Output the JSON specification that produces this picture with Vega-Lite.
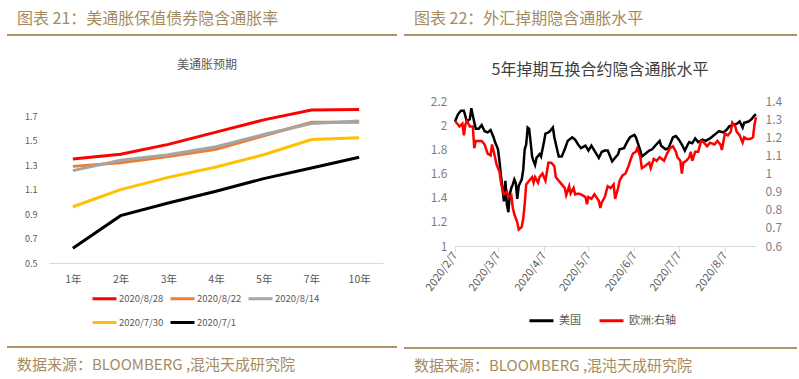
{
  "$schema": "https://vega.github.io/schema/vega-lite/v6.json",
  "background": "white",
  "padding": {"left": 6, "top": 11, "right": 0, "bottom": 0},
  "config": {
    "view": {"stroke": null},
    "font": "Noto Sans CJK SC",
    "legend": {"layout": {"bottom": {"anchor": "middle"}}}
  },
  "resolve": {"scale": {"color": "independent", "x": "independent", "y": "independent"}, "legend": {"color": "independent"}, "axis": {"x": "independent", "y": "independent"}},
  "datasets": {
    "us": [
      {"d": "2020-02-07", "v": 2.03, "s": "美国"}, {"d": "2020-02-09", "v": 2.09, "s": "美国"}, {"d": "2020-02-11", "v": 2.12, "s": "美国"}, {"d": "2020-02-13", "v": 2.12, "s": "美国"}, {"d": "2020-02-15", "v": 2.03, "s": "美国"}, {"d": "2020-02-17", "v": 2.05, "s": "美国"}, {"d": "2020-02-18", "v": 2.14, "s": "美国"}, {"d": "2020-02-19", "v": 2.08, "s": "美国"}, {"d": "2020-02-21", "v": 1.97, "s": "美国"}, {"d": "2020-02-23", "v": 1.97, "s": "美国"}, {"d": "2020-02-25", "v": 2.0, "s": "美国"}, {"d": "2020-02-27", "v": 1.95, "s": "美国"}, {"d": "2020-02-29", "v": 1.94, "s": "美国"}, {"d": "2020-03-02", "v": 1.96, "s": "美国"}, {"d": "2020-03-04", "v": 1.9, "s": "美国"}, {"d": "2020-03-05", "v": 1.86, "s": "美国"}, {"d": "2020-03-07", "v": 1.8, "s": "美国"}, {"d": "2020-03-08", "v": 1.7, "s": "美国"}, {"d": "2020-03-09", "v": 1.58, "s": "美国"}, {"d": "2020-03-10", "v": 1.48, "s": "美国"}, {"d": "2020-03-11", "v": 1.37, "s": "美国"}, {"d": "2020-03-12", "v": 1.54, "s": "美国"}, {"d": "2020-03-13", "v": 1.34, "s": "美国"}, {"d": "2020-03-14", "v": 1.28, "s": "美国"}, {"d": "2020-03-15", "v": 1.43, "s": "美国"}, {"d": "2020-03-16", "v": 1.48, "s": "美国"}, {"d": "2020-03-17", "v": 1.51, "s": "美国"}, {"d": "2020-03-18", "v": 1.55, "s": "美国"}, {"d": "2020-03-19", "v": 1.52, "s": "美国"}, {"d": "2020-03-20", "v": 1.39, "s": "美国"}, {"d": "2020-03-21", "v": 1.5, "s": "美国"}, {"d": "2020-03-23", "v": 1.55, "s": "美国"}, {"d": "2020-03-24", "v": 1.63, "s": "美国"}, {"d": "2020-03-25", "v": 1.8, "s": "美国"}, {"d": "2020-03-26", "v": 1.84, "s": "美国"}, {"d": "2020-03-27", "v": 1.98, "s": "美国"}, {"d": "2020-03-28", "v": 1.97, "s": "美国"}, {"d": "2020-03-29", "v": 1.86, "s": "美国"}, {"d": "2020-03-30", "v": 1.74, "s": "美国"}, {"d": "2020-03-31", "v": 1.7, "s": "美国"}, {"d": "2020-04-01", "v": 1.67, "s": "美国"}, {"d": "2020-04-02", "v": 1.73, "s": "美国"}, {"d": "2020-04-04", "v": 1.76, "s": "美国"}, {"d": "2020-04-05", "v": 1.74, "s": "美国"}, {"d": "2020-04-07", "v": 1.86, "s": "美国"}, {"d": "2020-04-08", "v": 1.93, "s": "美国"}, {"d": "2020-04-10", "v": 1.94, "s": "美国"}, {"d": "2020-04-11", "v": 1.95, "s": "美国"}, {"d": "2020-04-13", "v": 1.98, "s": "美国"}, {"d": "2020-04-14", "v": 1.9, "s": "美国"}, {"d": "2020-04-16", "v": 1.79, "s": "美国"}, {"d": "2020-04-17", "v": 1.74, "s": "美国"}, {"d": "2020-04-19", "v": 1.74, "s": "美国"}, {"d": "2020-04-21", "v": 1.8, "s": "美国"}, {"d": "2020-04-23", "v": 1.87, "s": "美国"}, {"d": "2020-04-26", "v": 1.9, "s": "美国"}, {"d": "2020-04-28", "v": 1.88, "s": "美国"}, {"d": "2020-04-30", "v": 1.84, "s": "美国"}, {"d": "2020-05-02", "v": 1.81, "s": "美国"}, {"d": "2020-05-05", "v": 1.83, "s": "美国"}, {"d": "2020-05-07", "v": 1.79, "s": "美国"}, {"d": "2020-05-09", "v": 1.83, "s": "美国"}, {"d": "2020-05-11", "v": 1.79, "s": "美国"}, {"d": "2020-05-14", "v": 1.73, "s": "美国"}, {"d": "2020-05-16", "v": 1.78, "s": "美国"}, {"d": "2020-05-18", "v": 1.79, "s": "美国"}, {"d": "2020-05-20", "v": 1.79, "s": "美国"}, {"d": "2020-05-23", "v": 1.7, "s": "美国"}, {"d": "2020-05-25", "v": 1.73, "s": "美国"}, {"d": "2020-05-27", "v": 1.76, "s": "美国"}, {"d": "2020-05-28", "v": 1.8, "s": "美国"}, {"d": "2020-05-31", "v": 1.81, "s": "美国"}, {"d": "2020-06-02", "v": 1.86, "s": "美国"}, {"d": "2020-06-04", "v": 1.9, "s": "美国"}, {"d": "2020-06-07", "v": 1.92, "s": "美国"}, {"d": "2020-06-08", "v": 1.9, "s": "美国"}, {"d": "2020-06-11", "v": 1.79, "s": "美国"}, {"d": "2020-06-12", "v": 1.74, "s": "美国"}, {"d": "2020-06-15", "v": 1.77, "s": "美国"}, {"d": "2020-06-17", "v": 1.79, "s": "美国"}, {"d": "2020-06-19", "v": 1.8, "s": "美国"}, {"d": "2020-06-21", "v": 1.83, "s": "美国"}, {"d": "2020-06-24", "v": 1.87, "s": "美国"}, {"d": "2020-06-25", "v": 1.83, "s": "美国"}, {"d": "2020-06-28", "v": 1.8, "s": "美国"}, {"d": "2020-06-30", "v": 1.81, "s": "美国"}, {"d": "2020-07-03", "v": 1.9, "s": "美国"}, {"d": "2020-07-05", "v": 1.91, "s": "美国"}, {"d": "2020-07-07", "v": 1.88, "s": "美国"}, {"d": "2020-07-09", "v": 1.84, "s": "美国"}, {"d": "2020-07-11", "v": 1.79, "s": "美国"}, {"d": "2020-07-13", "v": 1.84, "s": "美国"}, {"d": "2020-07-14", "v": 1.86, "s": "美国"}, {"d": "2020-07-16", "v": 1.85, "s": "美国"}, {"d": "2020-07-18", "v": 1.89, "s": "美国"}, {"d": "2020-07-20", "v": 1.86, "s": "美国"}, {"d": "2020-07-23", "v": 1.88, "s": "美国"}, {"d": "2020-07-25", "v": 1.87, "s": "美国"}, {"d": "2020-07-28", "v": 1.89, "s": "美国"}, {"d": "2020-07-30", "v": 1.91, "s": "美国"}, {"d": "2020-08-01", "v": 1.93, "s": "美国"}, {"d": "2020-08-03", "v": 1.95, "s": "美国"}, {"d": "2020-08-06", "v": 1.94, "s": "美国"}, {"d": "2020-08-08", "v": 1.96, "s": "美国"}, {"d": "2020-08-10", "v": 1.99, "s": "美国"}, {"d": "2020-08-12", "v": 2.0, "s": "美国"}, {"d": "2020-08-15", "v": 2.01, "s": "美国"}, {"d": "2020-08-17", "v": 2.03, "s": "美国"}, {"d": "2020-08-19", "v": 1.98, "s": "美国"}, {"d": "2020-08-20", "v": 2.02, "s": "美国"}, {"d": "2020-08-23", "v": 2.03, "s": "美国"}, {"d": "2020-08-25", "v": 2.05, "s": "美国"}, {"d": "2020-08-27", "v": 2.08, "s": "美国"}, {"d": "2020-08-28", "v": 2.09, "s": "美国"}
    ],
    "eu": [
      {"d": "2020-02-07", "v": 1.29, "s": "欧洲:右轴"}, {"d": "2020-02-09", "v": 1.27, "s": "欧洲:右轴"}, {"d": "2020-02-10", "v": 1.26, "s": "欧洲:右轴"}, {"d": "2020-02-12", "v": 1.275, "s": "欧洲:右轴"}, {"d": "2020-02-13", "v": 1.21, "s": "欧洲:右轴"}, {"d": "2020-02-14", "v": 1.27, "s": "欧洲:右轴"}, {"d": "2020-02-15", "v": 1.29, "s": "欧洲:右轴"}, {"d": "2020-02-17", "v": 1.26, "s": "欧洲:右轴"}, {"d": "2020-02-19", "v": 1.26, "s": "欧洲:右轴"}, {"d": "2020-02-20", "v": 1.14, "s": "欧洲:右轴"}, {"d": "2020-02-21", "v": 1.18, "s": "欧洲:右轴"}, {"d": "2020-02-23", "v": 1.18, "s": "欧洲:右轴"}, {"d": "2020-02-25", "v": 1.18, "s": "欧洲:右轴"}, {"d": "2020-02-27", "v": 1.16, "s": "欧洲:右轴"}, {"d": "2020-02-29", "v": 1.11, "s": "欧洲:右轴"}, {"d": "2020-03-02", "v": 1.1, "s": "欧洲:右轴"}, {"d": "2020-03-03", "v": 1.16, "s": "欧洲:右轴"}, {"d": "2020-03-05", "v": 1.09, "s": "欧洲:右轴"}, {"d": "2020-03-06", "v": 1.05, "s": "欧洲:右轴"}, {"d": "2020-03-08", "v": 1.01, "s": "欧洲:右轴"}, {"d": "2020-03-09", "v": 0.95, "s": "欧洲:右轴"}, {"d": "2020-03-10", "v": 0.91, "s": "欧洲:右轴"}, {"d": "2020-03-11", "v": 0.885, "s": "欧洲:右轴"}, {"d": "2020-03-13", "v": 0.9, "s": "欧洲:右轴"}, {"d": "2020-03-14", "v": 0.87, "s": "欧洲:右轴"}, {"d": "2020-03-16", "v": 0.88, "s": "欧洲:右轴"}, {"d": "2020-03-17", "v": 0.81, "s": "欧洲:右轴"}, {"d": "2020-03-18", "v": 0.775, "s": "欧洲:右轴"}, {"d": "2020-03-20", "v": 0.73, "s": "欧洲:右轴"}, {"d": "2020-03-21", "v": 0.69, "s": "欧洲:右轴"}, {"d": "2020-03-23", "v": 0.705, "s": "欧洲:右轴"}, {"d": "2020-03-24", "v": 0.75, "s": "欧洲:右轴"}, {"d": "2020-03-25", "v": 0.83, "s": "欧洲:右轴"}, {"d": "2020-03-26", "v": 0.94, "s": "欧洲:右轴"}, {"d": "2020-03-28", "v": 0.96, "s": "欧洲:右轴"}, {"d": "2020-03-30", "v": 0.98, "s": "欧洲:右轴"}, {"d": "2020-03-31", "v": 0.95, "s": "欧洲:右轴"}, {"d": "2020-04-01", "v": 0.98, "s": "欧洲:右轴"}, {"d": "2020-04-03", "v": 0.95, "s": "欧洲:右轴"}, {"d": "2020-04-04", "v": 0.98, "s": "欧洲:右轴"}, {"d": "2020-04-06", "v": 1.0, "s": "欧洲:右轴"}, {"d": "2020-04-08", "v": 0.96, "s": "欧洲:右轴"}, {"d": "2020-04-09", "v": 1.01, "s": "欧洲:右轴"}, {"d": "2020-04-10", "v": 1.06, "s": "欧洲:右轴"}, {"d": "2020-04-12", "v": 1.06, "s": "欧洲:右轴"}, {"d": "2020-04-14", "v": 1.04, "s": "欧洲:右轴"}, {"d": "2020-04-15", "v": 0.98, "s": "欧洲:右轴"}, {"d": "2020-04-17", "v": 0.96, "s": "欧洲:右轴"}, {"d": "2020-04-19", "v": 0.94, "s": "欧洲:右轴"}, {"d": "2020-04-21", "v": 0.92, "s": "欧洲:右轴"}, {"d": "2020-04-22", "v": 0.88, "s": "欧洲:右轴"}, {"d": "2020-04-24", "v": 0.93, "s": "欧洲:右轴"}, {"d": "2020-04-25", "v": 0.89, "s": "欧洲:右轴"}, {"d": "2020-04-27", "v": 0.92, "s": "欧洲:右轴"}, {"d": "2020-04-28", "v": 0.885, "s": "欧洲:右轴"}, {"d": "2020-04-30", "v": 0.89, "s": "欧洲:右轴"}, {"d": "2020-05-02", "v": 0.885, "s": "欧洲:右轴"}, {"d": "2020-05-05", "v": 0.87, "s": "欧洲:右轴"}, {"d": "2020-05-06", "v": 0.83, "s": "欧洲:右轴"}, {"d": "2020-05-07", "v": 0.87, "s": "欧洲:右轴"}, {"d": "2020-05-09", "v": 0.86, "s": "欧洲:右轴"}, {"d": "2020-05-11", "v": 0.885, "s": "欧洲:右轴"}, {"d": "2020-05-14", "v": 0.85, "s": "欧洲:右轴"}, {"d": "2020-05-15", "v": 0.81, "s": "欧洲:右轴"}, {"d": "2020-05-16", "v": 0.84, "s": "欧洲:右轴"}, {"d": "2020-05-18", "v": 0.87, "s": "欧洲:右轴"}, {"d": "2020-05-20", "v": 0.93, "s": "欧洲:右轴"}, {"d": "2020-05-22", "v": 0.92, "s": "欧洲:右轴"}, {"d": "2020-05-24", "v": 0.94, "s": "欧洲:右轴"}, {"d": "2020-05-25", "v": 0.86, "s": "欧洲:右轴"}, {"d": "2020-05-27", "v": 0.92, "s": "欧洲:右轴"}, {"d": "2020-05-28", "v": 0.96, "s": "欧洲:右轴"}, {"d": "2020-05-30", "v": 0.99, "s": "欧洲:右轴"}, {"d": "2020-06-01", "v": 1.0, "s": "欧洲:右轴"}, {"d": "2020-06-03", "v": 1.04, "s": "欧洲:右轴"}, {"d": "2020-06-05", "v": 1.09, "s": "欧洲:右轴"}, {"d": "2020-06-06", "v": 1.11, "s": "欧洲:右轴"}, {"d": "2020-06-08", "v": 1.12, "s": "欧洲:右轴"}, {"d": "2020-06-09", "v": 1.14, "s": "欧洲:右轴"}, {"d": "2020-06-11", "v": 1.09, "s": "欧洲:右轴"}, {"d": "2020-06-12", "v": 1.03, "s": "欧洲:右轴"}, {"d": "2020-06-14", "v": 1.04, "s": "欧洲:右轴"}, {"d": "2020-06-17", "v": 1.06, "s": "欧洲:右轴"}, {"d": "2020-06-18", "v": 1.03, "s": "欧洲:右轴"}, {"d": "2020-06-20", "v": 1.08, "s": "欧洲:右轴"}, {"d": "2020-06-22", "v": 1.07, "s": "欧洲:右轴"}, {"d": "2020-06-24", "v": 1.09, "s": "欧洲:右轴"}, {"d": "2020-06-27", "v": 1.07, "s": "欧洲:右轴"}, {"d": "2020-06-29", "v": 1.11, "s": "欧洲:右轴"}, {"d": "2020-07-01", "v": 1.14, "s": "欧洲:右轴"}, {"d": "2020-07-03", "v": 1.15, "s": "欧洲:右轴"}, {"d": "2020-07-05", "v": 1.12, "s": "欧洲:右轴"}, {"d": "2020-07-06", "v": 1.09, "s": "欧洲:右轴"}, {"d": "2020-07-08", "v": 1.07, "s": "欧洲:右轴"}, {"d": "2020-07-09", "v": 1.0, "s": "欧洲:右轴"}, {"d": "2020-07-10", "v": 1.06, "s": "欧洲:右轴"}, {"d": "2020-07-12", "v": 1.07, "s": "欧洲:右轴"}, {"d": "2020-07-14", "v": 1.09, "s": "欧洲:右轴"}, {"d": "2020-07-15", "v": 1.12, "s": "欧洲:右轴"}, {"d": "2020-07-16", "v": 1.07, "s": "欧洲:右轴"}, {"d": "2020-07-18", "v": 1.12, "s": "欧洲:右轴"}, {"d": "2020-07-20", "v": 1.12, "s": "欧洲:右轴"}, {"d": "2020-07-22", "v": 1.18, "s": "欧洲:右轴"}, {"d": "2020-07-24", "v": 1.17, "s": "欧洲:右轴"}, {"d": "2020-07-26", "v": 1.15, "s": "欧洲:右轴"}, {"d": "2020-07-28", "v": 1.17, "s": "欧洲:右轴"}, {"d": "2020-07-31", "v": 1.16, "s": "欧洲:右轴"}, {"d": "2020-08-02", "v": 1.18, "s": "欧洲:右轴"}, {"d": "2020-08-04", "v": 1.16, "s": "欧洲:右轴"}, {"d": "2020-08-05", "v": 1.13, "s": "欧洲:右轴"}, {"d": "2020-08-07", "v": 1.22, "s": "欧洲:右轴"}, {"d": "2020-08-09", "v": 1.21, "s": "欧洲:右轴"}, {"d": "2020-08-11", "v": 1.23, "s": "欧洲:右轴"}, {"d": "2020-08-12", "v": 1.28, "s": "欧洲:右轴"}, {"d": "2020-08-14", "v": 1.26, "s": "欧洲:右轴"}, {"d": "2020-08-15", "v": 1.23, "s": "欧洲:右轴"}, {"d": "2020-08-17", "v": 1.21, "s": "欧洲:右轴"}, {"d": "2020-08-19", "v": 1.17, "s": "欧洲:右轴"}, {"d": "2020-08-20", "v": 1.2, "s": "欧洲:右轴"}, {"d": "2020-08-22", "v": 1.19, "s": "欧洲:右轴"}, {"d": "2020-08-24", "v": 1.19, "s": "欧洲:右轴"}, {"d": "2020-08-26", "v": 1.2, "s": "欧洲:右轴"}, {"d": "2020-08-27", "v": 1.27, "s": "欧洲:右轴"}, {"d": "2020-08-28", "v": 1.31, "s": "欧洲:右轴"}
    ]
  },
  "spacing": 0,
  "hconcat": [
    {
      "spacing": 17,
      "resolve": {"scale": {"color": "independent", "x": "independent", "y": "independent"}, "legend": {"color": "independent"}},
      "vconcat": [
        {
          "spacing": 22,
          "resolve": {"scale": {"color": "independent", "x": "independent", "y": "independent"}, "legend": {"color": "independent"}},
          "vconcat": [
            {
              "width": 390, "height": 1,
              "title": {"text": "图表 21：美通胀保值债券隐含通胀率", "anchor": "start", "dx": 11, "fontSize": 16, "fontWeight": "normal", "color": "#a58b5e", "offset": 7},
              "data": {"values": [{"k": 0}]},
              "mark": {"type": "rule", "color": "#b09567", "strokeWidth": 2},
              "encoding": {"y": {"datum": 0, "type": "quantitative", "scale": {"domain": [0, 1]}, "axis": null}}
            },
            {
              "width": 396, "height": 159,
              "title": {"text": "美通胀预期", "fontSize": 12, "fontWeight": "normal", "color": "#595959", "offset": 32, "frame": "group", "dx": 2},
              "data": {"values": [
                {"term": "1年", "date": "2020/8/28", "v": 1.35}, {"term": "2年", "date": "2020/8/28", "v": 1.39}, {"term": "3年", "date": "2020/8/28", "v": 1.47}, {"term": "4年", "date": "2020/8/28", "v": 1.57}, {"term": "5年", "date": "2020/8/28", "v": 1.67}, {"term": "7年", "date": "2020/8/28", "v": 1.75}, {"term": "10年", "date": "2020/8/28", "v": 1.755},
                {"term": "1年", "date": "2020/8/22", "v": 1.29}, {"term": "2年", "date": "2020/8/22", "v": 1.32}, {"term": "3年", "date": "2020/8/22", "v": 1.37}, {"term": "4年", "date": "2020/8/22", "v": 1.43}, {"term": "5年", "date": "2020/8/22", "v": 1.54}, {"term": "7年", "date": "2020/8/22", "v": 1.65}, {"term": "10年", "date": "2020/8/22", "v": 1.65},
                {"term": "1年", "date": "2020/8/14", "v": 1.255}, {"term": "2年", "date": "2020/8/14", "v": 1.34}, {"term": "3年", "date": "2020/8/14", "v": 1.385}, {"term": "4年", "date": "2020/8/14", "v": 1.45}, {"term": "5年", "date": "2020/8/14", "v": 1.55}, {"term": "7年", "date": "2020/8/14", "v": 1.64}, {"term": "10年", "date": "2020/8/14", "v": 1.66},
                {"term": "1年", "date": "2020/7/30", "v": 0.96}, {"term": "2年", "date": "2020/7/30", "v": 1.1}, {"term": "3年", "date": "2020/7/30", "v": 1.2}, {"term": "4年", "date": "2020/7/30", "v": 1.285}, {"term": "5年", "date": "2020/7/30", "v": 1.385}, {"term": "7年", "date": "2020/7/30", "v": 1.51}, {"term": "10年", "date": "2020/7/30", "v": 1.525},
                {"term": "1年", "date": "2020/7/1", "v": 0.62}, {"term": "2年", "date": "2020/7/1", "v": 0.887}, {"term": "3年", "date": "2020/7/1", "v": 0.99}, {"term": "4年", "date": "2020/7/1", "v": 1.086}, {"term": "5年", "date": "2020/7/1", "v": 1.19}, {"term": "7年", "date": "2020/7/1", "v": 1.277}, {"term": "10年", "date": "2020/7/1", "v": 1.365}
              ]},
              "mark": {"type": "line", "strokeWidth": 3},
              "encoding": {
                "x": {"field": "term", "type": "ordinal", "sort": ["1年", "2年", "3年", "4年", "5年", "7年", "10年"], "scale": {"type": "point", "padding": 0.5, "range": [42, 376]},
                      "axis": {"title": null, "labelAngle": 0, "ticks": false, "domainColor": "#d9d9d9", "labelColor": "#595959", "labelFontSize": 10.5, "labelPadding": 11}},
                "y": {"field": "v", "type": "quantitative", "scale": {"domain": [0.5, 1.8], "nice": false, "zero": false},
                      "axis": {"title": null, "offset": -42, "values": [0.5, 0.7, 0.9, 1.1, 1.3, 1.5, 1.7], "format": "~g", "grid": false, "domain": false, "ticks": false, "labelColor": "#595959", "labelFontSize": 9, "labelPadding": 12}},
                "color": {"field": "date", "type": "nominal",
                          "scale": {"domain": ["2020/8/28", "2020/8/22", "2020/8/14", "2020/7/30", "2020/7/1"], "range": ["#ff0000", "#ed7d31", "#a5a5a5", "#ffc000", "#000000"]},
                          "legend": {"title": null, "orient": "bottom", "direction": "horizontal", "columns": 3, "symbolType": "stroke", "symbolSize": 576, "symbolStrokeWidth": 3, "labelFontSize": 9.5, "labelColor": "#595959", "rowPadding": 4, "columnPadding": 0, "labelOffset": 1, "offset": 0}}
              }
            }
          ]
        },
        {
          "width": 390, "height": 1,
          "title": {"text": "数据来源：BLOOMBERG ,混沌天成研究院", "orient": "bottom", "anchor": "start", "dx": 11, "fontSize": 15, "fontWeight": "normal", "color": "#a58b5e", "offset": 10},
          "data": {"values": [{"k": 0}]},
          "mark": {"type": "rule", "color": "#b09567", "strokeWidth": 2},
          "encoding": {"y": {"datum": 1, "type": "quantitative", "scale": {"domain": [0, 1]}, "axis": null}}
        }
      ]
    },
    {
      "spacing": 20,
      "resolve": {"scale": {"color": "independent", "x": "independent", "y": "independent"}, "legend": {"color": "independent"}},
      "vconcat": [
        {
          "spacing": 26,
          "resolve": {"scale": {"color": "independent", "x": "independent", "y": "independent"}, "legend": {"color": "independent"}},
          "vconcat": [
            {
              "width": 393, "height": 1,
              "title": {"text": "图表 22：外汇掉期隐含通胀水平", "anchor": "start", "dx": 11, "fontSize": 16, "fontWeight": "normal", "color": "#a58b5e", "offset": 7},
              "data": {"values": [{"k": 0}]},
              "mark": {"type": "rule", "color": "#b09567", "strokeWidth": 2},
              "encoding": {"y": {"datum": 0, "type": "quantitative", "scale": {"domain": [0, 1]}, "axis": null}}
            },
            {
              "width": 396, "height": 145,
              "title": {"text": "5年掉期互换合约隐含通胀水平", "fontSize": 16, "fontWeight": "normal", "color": "#404040", "offset": 17, "frame": "group", "dx": -2},
              "layer": [
                {
                  "data": {"name": "us"},
                  "mark": {"type": "line", "strokeWidth": 2.5},
                  "encoding": {
                    "x": {"field": "d", "type": "temporal", "scale": {"type": "utc", "range": [51, 352], "domain": [{"year": 2020, "month": 2, "date": 7, "utc": true}, {"year": 2020, "month": 8, "date": 28, "utc": true}]},
                          "axis": {"title": null, "values": [{"year": 2020, "month": 2, "date": 7, "utc": true}, {"year": 2020, "month": 3, "date": 7, "utc": true}, {"year": 2020, "month": 4, "date": 7, "utc": true}, {"year": 2020, "month": 5, "date": 7, "utc": true}, {"year": 2020, "month": 6, "date": 7, "utc": true}, {"year": 2020, "month": 7, "date": 7, "utc": true}, {"year": 2020, "month": 8, "date": 7, "utc": true}],
                                   "format": "%Y/%-m/%-d", "labelAngle": -54, "grid": false, "tickSize": 5, "tickColor": "#d9d9d9", "domainColor": "#d9d9d9", "labelColor": "#595959", "labelFontSize": 11, "labelPadding": 2}},
                    "y": {"field": "v", "type": "quantitative", "scale": {"domain": [1, 2.2], "nice": false, "zero": false},
                          "axis": {"title": null, "offset": -51, "orient": "left", "values": [1, 1.2, 1.4, 1.6, 1.8, 2, 2.2], "format": "~g", "grid": false, "domain": false, "ticks": false, "labelColor": "#7f7f7f", "labelFontSize": 12, "labelPadding": 8}},
                    "color": {"field": "s", "type": "nominal", "scale": {"domain": ["美国", "欧洲:右轴"], "range": ["#000000", "#ff0000"]},
                              "legend": {"title": null, "orient": "bottom", "direction": "horizontal", "symbolType": "stroke", "symbolSize": 576, "symbolStrokeWidth": 3, "labelFontSize": 11, "labelColor": "#595959", "columnPadding": 12, "labelOffset": 4, "offset": 14}}
                  }
                },
                {
                  "data": {"name": "eu"},
                  "mark": {"type": "line", "strokeWidth": 2.5},
                  "encoding": {
                    "x": {"field": "d", "type": "temporal"},
                    "y": {"field": "v", "type": "quantitative", "scale": {"domain": [0.6, 1.4], "nice": false, "zero": false},
                          "axis": {"title": null, "offset": -44, "orient": "right", "values": [0.6, 0.7, 0.8, 0.9, 1, 1.1, 1.2, 1.3, 1.4], "format": "~g", "grid": false, "domain": false, "ticks": false, "labelColor": "#7f7f7f", "labelFontSize": 12, "labelPadding": 9}},
                    "color": {"field": "s", "type": "nominal"}
                  }
                }
              ],
              "resolve": {"scale": {"y": "independent"}}
            }
          ]
        },
        {
          "width": 393, "height": 1,
          "title": {"text": "数据来源：BLOOMBERG ,混沌天成研究院", "orient": "bottom", "anchor": "start", "dx": 11, "fontSize": 15, "fontWeight": "normal", "color": "#a58b5e", "offset": 10},
          "data": {"values": [{"k": 0}]},
          "mark": {"type": "rule", "color": "#b09567", "strokeWidth": 2},
          "encoding": {"y": {"datum": 1, "type": "quantitative", "scale": {"domain": [0, 1]}, "axis": null}}
        }
      ]
    }
  ]
}
